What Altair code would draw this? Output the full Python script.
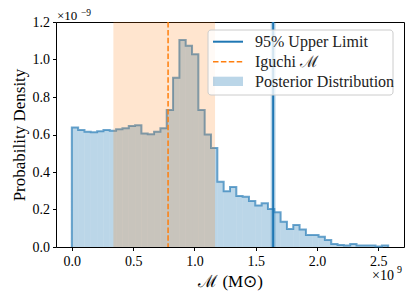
import altair as alt
import pandas as pd
import numpy as np

# ---- data (x in units of 1e9 Msun, density in units of 1e-9) ----
hist_start = 0.0
hist_end = 2.58
density = [0.638, 0.624, 0.615, 0.612, 0.618, 0.624, 0.620, 0.628, 0.633, 0.645,
           0.649, 0.606, 0.601, 0.615, 0.633, 0.731, 0.903, 1.104, 1.074, 1.028,
           0.731, 0.600, 0.528, 0.348, 0.298, 0.320, 0.272, 0.268, 0.245, 0.222,
           0.233, 0.203, 0.185, 0.135, 0.096, 0.117, 0.094, 0.064, 0.064, 0.055,
           0.037, 0.016, 0.011, 0.008, 0.016, 0.008, 0.008, 0.008, 0.003, 0.008]
upper_limit = [1.642]
upper_band = [1.622, 1.662]
iguchi = [0.785]
iguchi_span = [0.339, 1.168]
x_ticks = [0.0, 0.5, 1.0, 1.5, 2.0, 2.5]
y_ticks = [0.0, 0.2, 0.4, 0.6, 0.8, 1.0, 1.2]
legend_labels = ["95% Upper Limit", "Iguchi ℳ", "Posterior Distribution"]

BLUE = "#1f77b4"
ORANGE = "#ff7f0e"
FONT = "Liberation Serif"

n = len(density)
edges = np.linspace(hist_start, hist_end, n + 1)
bars = pd.DataFrame({"lo": edges[:-1], "hi": edges[1:], "d": density})
xs, ys = [edges[0]], [0.0]
for i in range(n):
    xs += [edges[i], edges[i + 1]]
    ys += [density[i], density[i]]
xs.append(edges[-1]); ys.append(0.0)
outline = pd.DataFrame({"x": xs, "y": ys, "o": range(len(xs))})

X = alt.Scale(domain=[-0.129, 2.709], nice=False, zero=False)
Y = alt.Scale(domain=[0, 1.2], nice=False, zero=False)

xaxis = alt.Axis(values=x_ticks, format=".1f", title="ℳ (M⊙)", grid=False,
                 domain=False, tickSize=3.5, tickColor="black", labelPadding=4,
                 titlePadding=5, labelOverlap=False)
yaxis = alt.Axis(values=y_ticks, format=".1f", title="Probability Density", grid=False,
                 domain=False, tickSize=3.5, tickColor="black", labelPadding=3,
                 titlePadding=4, labelOverlap=False)

hist = alt.Chart(bars).mark_rect(color=BLUE, opacity=0.3).encode(
    x=alt.X("lo:Q", scale=X, axis=xaxis), x2="hi:Q",
    y=alt.Y("d:Q", scale=Y, axis=yaxis), y2=alt.datum(0))

step = alt.Chart(outline).mark_line(color=BLUE, opacity=0.65, strokeWidth=2).encode(
    x=alt.X("x:Q", scale=X, axis=xaxis), y=alt.Y("y:Q", scale=Y, axis=yaxis), order="o:Q")

band_df = pd.DataFrame({"a": [upper_band[0]], "b": [upper_band[1]]})
band = alt.Chart(band_df).mark_rect(color=BLUE, opacity=0.3).encode(
    x=alt.X("a:Q", scale=X, axis=xaxis), x2="b:Q",
    y=alt.Y(datum=0, scale=Y, axis=yaxis), y2=alt.datum(1.2))

ul = alt.Chart(pd.DataFrame({"v": upper_limit})).mark_rule(color=BLUE, strokeWidth=2).encode(
    x=alt.X("v:Q", scale=X, axis=xaxis))

span_df = pd.DataFrame({"a": [iguchi_span[0]], "b": [iguchi_span[1]]})
span = alt.Chart(span_df).mark_rect(color=ORANGE, opacity=0.2).encode(
    x=alt.X("a:Q", scale=X, axis=xaxis), x2="b:Q",
    y=alt.Y(datum=0, scale=Y, axis=yaxis), y2=alt.datum(1.2))

ig = alt.Chart(pd.DataFrame({"v": iguchi})).mark_rule(
    color=ORANGE, strokeWidth=1.5, strokeDash=[5.5, 2.4]).encode(
    x=alt.X("v:Q", scale=X, axis=xaxis))

one = pd.DataFrame({"a": [0]})
# legend
leg_box = alt.Chart(one).mark_rect(fill="white", fillOpacity=0.8, stroke="#cccccc",
                                   strokeWidth=1, cornerRadius=3).encode(
    x=alt.value(152), x2=alt.value(337), y=alt.value(8), y2=alt.value(73))
leg1 = alt.Chart(one).mark_rule(color=BLUE, strokeWidth=2).encode(
    x=alt.value(157), x2=alt.value(187), y=alt.value(19.7))
leg2 = alt.Chart(one).mark_rule(color=ORANGE, strokeWidth=1.5, strokeDash=[5.5, 2.4]).encode(
    x=alt.value(157), x2=alt.value(187), y=alt.value(39.7))
leg3 = alt.Chart(one).mark_rect(color=BLUE, opacity=0.3).encode(
    x=alt.value(157), x2=alt.value(187), y=alt.value(54.7), y2=alt.value(64))
leg_text = alt.Chart(pd.DataFrame({"t": legend_labels, "yy": [19.7, 39.7, 59.7]})).mark_text(
    font=FONT, fontSize=16, align="left", baseline="middle", color="#222222").encode(
    x=alt.value(199), y=alt.Y("yy:Q", scale=None), text="t:N")

# offset texts (x10^-9 on y, x10^9 on x)
off_y = alt.Chart(one).mark_text(font=FONT, fontSize=13, align="left", baseline="alphabetic",
                                 color="black", text="×10").encode(
    x=alt.value(1), y=alt.value(-2))
off_y_exp = alt.Chart(one).mark_text(font=FONT, fontSize=9.5, align="left", baseline="alphabetic",
                                     color="black", text="−9").encode(
    x=alt.value(25), y=alt.value(-6))
off_x = alt.Chart(one).mark_text(font=FONT, fontSize=14, align="left", baseline="alphabetic",
                                 color="black", text="×10").encode(
    x=alt.value(316), y=alt.value(258))
off_x_exp = alt.Chart(one).mark_text(font=FONT, fontSize=10, align="left", baseline="alphabetic",
                                     color="black", text="9").encode(
    x=alt.value(341), y=alt.value(251))

chart = alt.layer(hist, step, band, ul, span, ig, leg_box, leg1, leg2, leg3, leg_text,
                  off_y, off_y_exp, off_x, off_x_exp).properties(
    width=348, height=225,
    padding={"left": 48, "top": 14, "right": 3, "bottom": 45},
    autosize=alt.AutoSizeParams(type="none"),
).configure_view(stroke="black", strokeWidth=1).configure_axis(
    labelFont=FONT, labelFontSize=14, labelColor="black",
    titleFont=FONT, titleFontSize=17, titleFontWeight="normal", titleColor="black")

chart.save("out.html", embed_options={"renderer": "svg", "actions": False})
